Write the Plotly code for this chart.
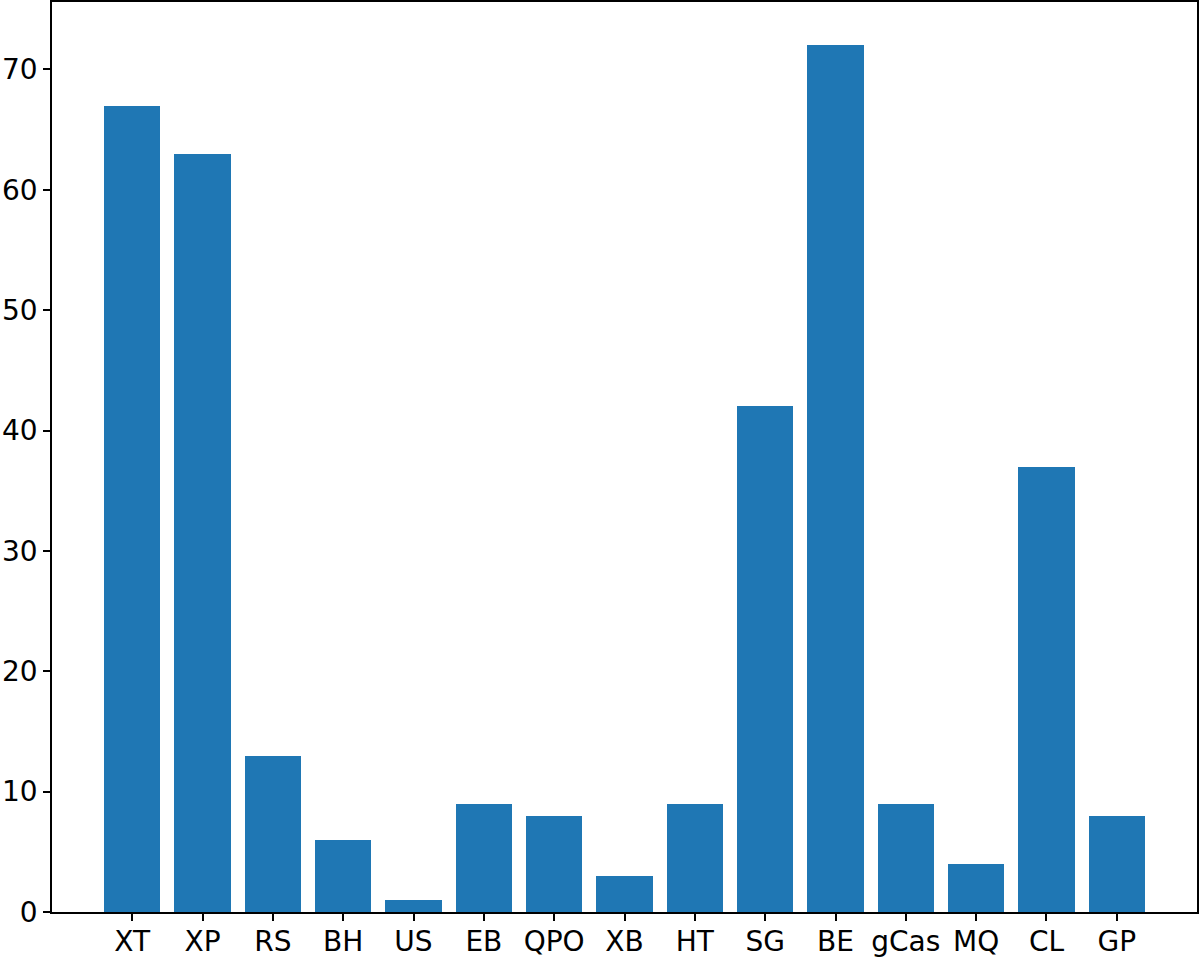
import plotly.graph_objects as go

# catégories et valeurs
categories = ["XT", "XP", "RS", "BH", "US", "EB", "QPO", "XB", "HT", "SG", "BE", "gCas", "MQ", "CL", "GP"]
counts = [67, 63, 13, 6, 1, 9, 8, 3, 9, 42, 72, 9, 4, 37, 8]
y_ticks = [0, 10, 20, 30, 40, 50, 60, 70]

positions = list(range(len(categories)))

fig = go.Figure()
fig.add_trace(
    go.Bar(
        x=positions,
        y=counts,
        width=0.8,
        marker=dict(color="#1f77b4", line=dict(width=0)),
    )
)

axis_style = dict(
    showline=True,
    mirror=True,
    linecolor="black",
    linewidth=1.5,
    ticks="outside",
    ticklen=7,
    tickwidth=1.5,
    tickcolor="black",
    showgrid=False,
    zeroline=False,
    automargin=False,
)

fig.update_layout(
    width=1200,
    height=958,
    margin=dict(l=52, r=3, t=2, b=46),
    paper_bgcolor="white",
    plot_bgcolor="white",
    font=dict(family="DejaVu Sans", size=28, color="black"),
    showlegend=False,
    bargap=0,
    xaxis=dict(
        range=[-1.14, len(categories) - 1 + 1.14],
        tickvals=positions,
        ticktext=categories,
        ticklabelstandoff=-3,
        **axis_style,
    ),
    yaxis=dict(
        range=[0, max(counts) * 1.05],
        tickvals=y_ticks,
        **axis_style,
    ),
)

# la page a une marge de 8px par défaut, on l'enlève
fig.write_html(
    "out.html",
    config={"displayModeBar": False},
    post_script="document.body.style.margin='0';",
)
